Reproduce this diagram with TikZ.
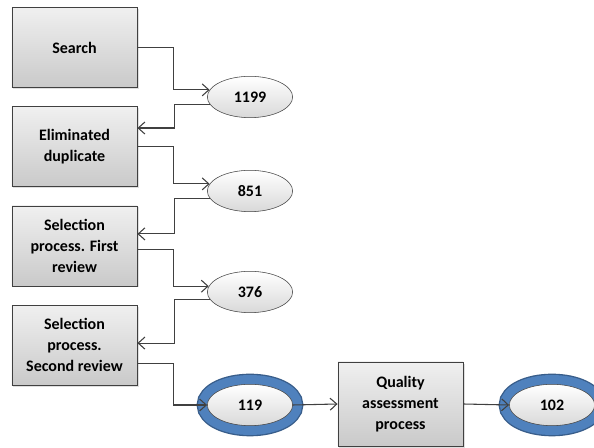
\documentclass[tikz,border=0pt]{standalone}
\usepackage{fontspec}
\setmainfont{Carlito}
\definecolor{boxLine}{RGB}{64, 64, 64}
\definecolor{ringBlue}{RGB}{79, 129, 189}
\definecolor{ringDark}{RGB}{56, 93, 138}
\usepackage{tikz}
\usetikzlibrary{positioning, arrows.meta, shapes.geometric, shadows}

\begin{document}
\begin{tikzpicture}[
    x=0.75pt, y=-0.75pt,
    node distance=14pt,
    font=\fontsize{12}{16}\selectfont\bfseries,
    stepbox/.style={rectangle, draw=boxLine, top color=gray!12, bottom color=gray!42,
                    minimum width=94pt, minimum height=60pt, align=center,
                    drop shadow={opacity=0.25, shadow xshift=1.2pt, shadow yshift=-1.2pt}},
    count/.style={ellipse, draw=boxLine, top color=white, bottom color=gray!30,
                  minimum width=64pt, minimum height=31pt, inner sep=0pt},
    final/.style={count,
                  preaction={draw=ringDark, line width=16pt},
                  preaction={draw=ringBlue, line width=14pt}},
    link/.style={draw=boxLine, line width=0.8pt,
                 -{Straight Barb[length=5pt, width=9pt]}}
  ]
    \useasboundingbox (0,0) rectangle (594,448);
    \fill[white] (0,0) rectangle (594,448);

    % left column of steps
    \node[stepbox] (S) at (74.5,47.5) {Search};
    \node[stepbox, below=of S] (ED) {Eliminated\\duplicate};
    \node[stepbox, below=of ED] (SP1) {Selection\\process. First\\review};
    \node[stepbox, below=of SP1] (SP2) {Selection\\process.\\Second review};
    \node[stepbox, minimum height=63pt] (QA) at (400.5,404) {Quality\\assessment\\process};

    % counts
    \node[count] (E1199) at (250,97) {1199};
    \node[count] (E851) at (250,191) {851};
    \node[count] (E376) at (250,292) {376};
    \node[final] (E119) at (250,405) {119};
    \node[final] (E102) at (552,405) {102};

    % connectors
    \draw[link] (S.east) -- ++(36,0) |- (E1199.170);
    \draw[link] (E1199.190) -- ++(-35.5,0) |- ([yshift=14pt]ED.east);
    \draw[link] (ED.east) -- ++(36,0) |- (E851.170);
    \draw[link] (E851.190) -- ++(-35.5,0) |- ([yshift=9pt]SP1.east);
    \draw[link] ([yshift=-3pt]SP1.east) -- ++(36,0) |- (E376.172);
    \draw[link] (E376.190) -- ++(-35.5,0) |- ([yshift=1.5pt]SP2.east);
    \draw[link] ([yshift=-14pt]SP2.east) -- ++(36,0) |- (E119.west);
    \draw[link] (E119.east) -- (QA.west);
    \draw[link] (QA.east) -- (E102.west);
\end{tikzpicture}
\end{document}
